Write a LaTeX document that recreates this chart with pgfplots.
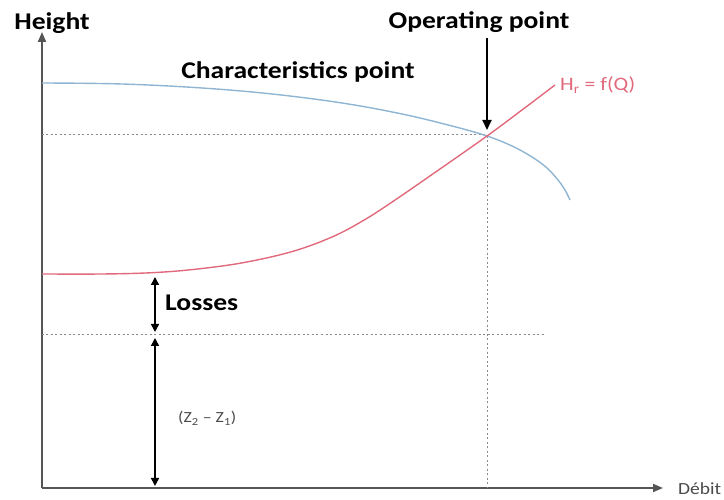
\documentclass[border=0pt]{standalone}
\usepackage{pgfplots}
\pgfplotsset{compat=1.18}
\usepackage{fontspec}
\setmainfont{Carlito}[FakeStretch=1.15]
\usetikzlibrary{arrows.meta}
\definecolor{axisgray}{HTML}{555555}
\definecolor{pumpblue}{HTML}{8FB5D2}
\definecolor{sysred}{HTML}{E06A7C}
\definecolor{dotgray}{HTML}{8A8A8A}
\definecolor{txtgray}{HTML}{4A4A4A}
\begin{document}
\begin{tikzpicture}
\begin{axis}[
  scale only axis, width=621pt, height=456pt,
  xmin=0, xmax=621, ymin=0, ymax=456,
  axis lines=left, ticks=none, clip=false,
  axis line style={draw=axisgray, line width=1.8pt, -{Triangle[length=10pt,width=8pt]}},
]
\path (axis cs:-42,-12) rectangle (axis cs:682,488);
% dotted guide lines
\addplot[dotgray, line width=1pt, dash pattern=on 2pt off 2.5pt] coordinates {(0,353) (445,353)};
\addplot[dotgray, line width=1pt, dash pattern=on 2pt off 2.5pt] coordinates {(445,352) (445,0)};
\addplot[dotgray, line width=1pt, dash pattern=on 2pt off 2.5pt] coordinates {(0,153) (503,153)};
% pump characteristic
\addplot[pumpblue, line width=1.4pt, smooth, tension=0.6] coordinates {
 (0,405) (80,404) (160,400) (230,394) (300,385) (360,374) (410,362) (445,352) (470,342) (490,331) (505,320) (516,308) (523,298) (528,288)};
% system curve
\addplot[sysred, line width=1.4pt, smooth, tension=0.6] coordinates {
 (0,214) (60,214) (108,215.2) (150,218.4) (200,225.1) (250,236.4) (290,251) (320,266.7) (350,285.9) (400,320.4) (445,352) (480,378) (513,403)};
% arrows
\draw[black, line width=1.8pt, -{Triangle[length=10pt,width=9pt]}] (axis cs:445,450) -- (axis cs:445,358);
\draw[black, line width=1.6pt, {Triangle[length=8pt,width=8pt]}-{Triangle[length=8pt,width=8pt]}] (axis cs:113,211) -- (axis cs:113,156);
\draw[black, line width=1.6pt, {Triangle[length=8pt,width=8pt]}-{Triangle[length=8pt,width=8pt]}] (axis cs:113,150) -- (axis cs:113,2);
% labels
\node[anchor=base, font=\fontsize{24}{28}\selectfont\bfseries] at (axis cs:10,458) {Height};
\node[anchor=base, font=\fontsize{24}{28}\selectfont\bfseries] at (axis cs:437,459) {Operating point};
\node[anchor=base, font=\fontsize{24}{28}\selectfont\bfseries] at (axis cs:256,409) {Characteristics point};
\node[anchor=base west, inner sep=0pt, font=\fontsize{24}{28}\selectfont\bfseries] at (axis cs:123,177) {Losses};
\node[anchor=base west, inner sep=0pt, text=sysred, font=\fontsize{19}{22}\selectfont] at (axis cs:518,397) {H\textsubscript{r} = f(Q)};
\node[anchor=base west, inner sep=0pt, text=txtgray, font=\fontsize{15.5}{18}\selectfont] at (axis cs:136,65) {(Z\textsubscript{2} -- Z\textsubscript{1})};
\node[anchor=west, inner sep=0pt, text=txtgray, font=\fontsize{17}{20}\selectfont] at (axis cs:636,-1) {Débit};
\end{axis}
\end{tikzpicture}
\end{document}
